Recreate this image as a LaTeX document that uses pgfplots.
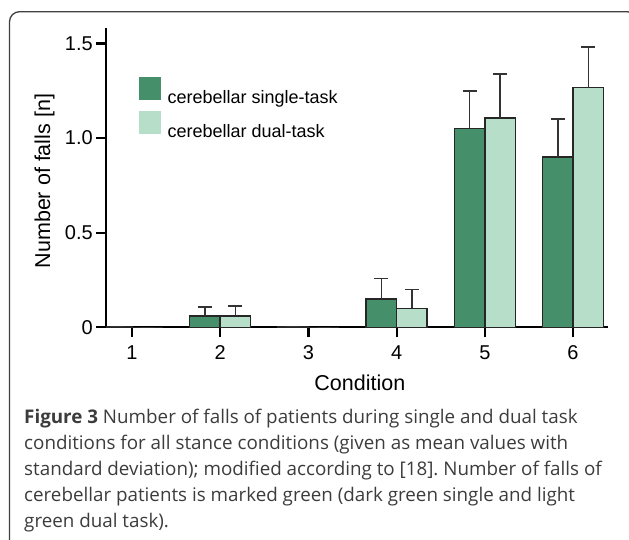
\documentclass[border=0pt]{standalone}
\usepackage{fontspec}
\setmainfont{Liberation Sans}
\newfontfamily\capfont{Open Sans}
\usepackage{pgfplots}
\pgfplotsset{compat=1.18}
\definecolor{darkg}{RGB}{69,143,106}
\definecolor{lightg}{RGB}{182,222,201}
\definecolor{capgray}{RGB}{60,60,60}
\frenchspacing
\begin{document}
\begin{tikzpicture}
\useasboundingbox (0pt,0pt) rectangle (629pt,540pt);
\draw[rounded corners=10pt, line width=1.3pt, black!75] (9.5pt,-30pt) rectangle (637pt,528.3pt);
\begin{axis}[
  at={(106pt,212.7pt)}, anchor=south west,
  scale only axis, width=501.7pt, height=299pt,
  xmin=0.705, xmax=6.393, ymin=0, ymax=1.58,
  axis lines=left,
  axis line style={line width=2.2pt, -, black},
  ybar=0pt, bar width=30.5pt,
  xtick={1,2,3,4,5,6},
  ytick={0,0.5,1,1.5},
  yticklabels={0,0.5,1.0,1.5},
  tick align=outside,
  major tick length=10pt,
  tick style={line width=2.2pt, black},
  /pgf/number format/assume math mode=true,
  tick label style={font=\fontsize{20}{20}\selectfont},
  xticklabel style={yshift=-5pt},
  yticklabel style={inner xsep=3pt},
  label style={font=\fontsize{21.5}{21.5}\selectfont},
  xlabel={Condition},
  ylabel={Number of falls [n]},
  xlabel style={at={(axis description cs:0.5,0)}, anchor=base, yshift=-63pt, xshift=3pt},
  ylabel style={at={(axis description cs:-0.1116,0.489)}, anchor=base},
  legend style={draw=none, fill=none, at={(rel axis cs:0.0658,0.8371)}, anchor=north west,
    font=\fontsize{18}{18}\selectfont, row sep=6.7pt, column sep=7pt, inner sep=0pt,
    nodes={inner sep=0pt}},
  legend cell align=left,
  error bars/y dir=plus,
  error bars/y explicit,
  error bars/error bar style={line width=1.5pt, black!80},
  error bars/error mark options={rotate=90, mark size=7pt, line width=1.5pt, black!80},
]
\addplot[fill=darkg, draw=black!85, line width=1.5pt,
  legend image code/.code={\fill[darkg] (0pt,-1.5pt) rectangle (20pt,19.5pt);}]
  coordinates {(1,0.004) +- (0,0) (2,0.06) +- (0,0.046) (3,0.003) +- (0,0) (4,0.15) +- (0,0.109) (5,1.051) +- (0,0.197) (6,0.90) +- (0,0.202)};
\addlegendentry{cerebellar single-task}
\addplot[fill=lightg, draw=black!85, line width=1.5pt,
  legend image code/.code={\fill[lightg] (0pt,-1.5pt) rectangle (20pt,19.5pt);}]
  coordinates {(1,0) +- (0,0) (2,0.06) +- (0,0.053) (3,0) +- (0,0) (4,0.10) +- (0,0.101) (5,1.107) +- (0,0.231) (6,1.266) +- (0,0.216)};
\addlegendentry{cerebellar dual-task}
\end{axis}
\begin{scope}[every node/.style={anchor=base west, inner sep=0pt, text=capgray, font=\capfont\fontsize{18.8}{18.8}\selectfont}]
\node at (24pt,116pt) {\textbf{Figure 3} Number of falls of patients during single and dual task};
\node at (24pt,90pt) {conditions for all stance conditions (given as mean values with};
\node at (24pt,64pt) {standard deviation); modified according to [18]. Number of falls of};
\node at (24pt,38pt) {cerebellar patients is marked green (dark green single and light};
\node at (24pt,12pt) {green dual task).};
\end{scope}
\end{tikzpicture}
\end{document}
